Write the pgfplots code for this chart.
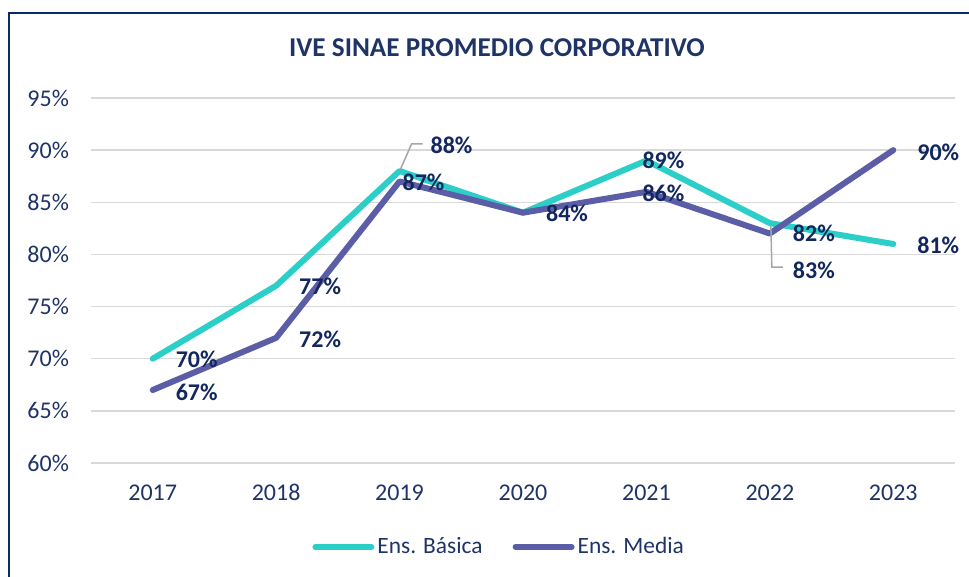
\documentclass[border=0pt]{standalone}
\usepackage{pgfplots}
\pgfplotsset{compat=1.18}
\usepackage{fontspec}
\setmainfont{Carlito}
\definecolor{navy}{HTML}{1F3466}
\definecolor{framec}{HTML}{0B2A6B}
\definecolor{lblc}{HTML}{13275F}
\definecolor{cteal}{HTML}{2BCFC8}
\definecolor{cpurple}{HTML}{5B5EA6}
\definecolor{leaderc}{HTML}{A6A6A6}
\definecolor{gridc}{HTML}{D9D9D9}
\tikzset{lbl/.style={font=\bfseries\fontsize{12}{14}\selectfont, text=lblc}}
\begin{document}
\begin{tikzpicture}
\useasboundingbox (0,0) rectangle (484.5pt,288.5pt);
\draw[framec, line width=1pt] (4.5pt,0pt) -- (4.5pt,282pt) -- (484.5pt,282pt);
\node[text=navy, font=\bfseries\fontsize{13.6}{15}\selectfont] at (248.5pt,264.5pt) {IVE SINAE PROMEDIO CORPORATIVO};
\begin{axis}[
  at={(45.5pt,57pt)}, anchor=south west,
  scale only axis, width=432pt, height=182.5pt,
  xmin=-0.5, xmax=6.5, ymin=60, ymax=95,
  xtick={0,...,6}, xticklabels={2017,2018,2019,2020,2021,2022,2023},
  ytick={60,65,...,95}, yticklabels={60\%,65\%,70\%,75\%,80\%,85\%,90\%,95\%},
  ymajorgrids, grid style={draw=gridc, line width=0.75pt},
  axis line style={draw=none}, major tick length=0pt,
  tick label style={text=navy, font=\fontsize{12}{14}\selectfont},
  yticklabel style={xshift=-7.5pt},
  xticklabel style={yshift=-7.2pt},
  clip=false,
  legend style={at={(0.473,-0.230)}, anchor=center, draw=none, fill=none,
    font=\fontsize{11.7}{14}\selectfont, text=navy, nodes={inner xsep=1.5pt},
    /tikz/every even column/.append style={column sep=13.5pt}},
  legend columns=2, legend cell align=left,
  legend image code/.code={\draw[#1, line cap=round] (0pt,0pt) -- (28pt,0pt);},
]
\addplot[cteal, line width=3pt, line join=round, line cap=round] coordinates {(0,70)(1,77)(2,88)(3,84)(4,89)(5,83)(6,81)};
\addlegendentry{Ens. Básica}
\addplot[cpurple, line width=3pt, line join=round, line cap=round] coordinates {(0,67)(1,72)(2,87)(3,84)(4,86)(5,82)(6,90)};
\addlegendentry{Ens. Media}
% Basica labels
\node[lbl, xshift=22pt, yshift=-0.5pt] at (axis cs:0,70) {70\%};
\node[lbl, xshift=22pt, yshift=-0.5pt] at (axis cs:1,77) {77\%};
\node[lbl, xshift=26pt, yshift=13pt] at (axis cs:2,88) {88\%};
\draw[leaderc, line width=0.75pt] ([xshift=0.5pt,yshift=1pt]axis cs:2,88) -- ++(5.5pt,12.5pt) -- ++(5.5pt,0pt);
\node[lbl, xshift=8.5pt, yshift=0pt] at (axis cs:4,89) {89\%};
\node[lbl, xshift=22pt, yshift=-23.5pt] at (axis cs:5,83) {83\%};
\draw[leaderc, line width=0.75pt] ([xshift=0.5pt,yshift=-1pt]axis cs:5,83) -- ++(0.5pt,-21pt) -- ++(5.5pt,0pt);
\node[lbl, xshift=22.5pt, yshift=-0.5pt] at (axis cs:6,81) {81\%};
% Media labels
\node[lbl, xshift=22pt, yshift=-1pt] at (axis cs:0,67) {67\%};
\node[lbl, xshift=22pt, yshift=-0.5pt] at (axis cs:1,72) {72\%};
\node[lbl, xshift=12pt, yshift=-0.5pt] at (axis cs:2,87) {87\%};
\node[lbl, xshift=22pt, yshift=-0.5pt] at (axis cs:3,84) {84\%};
\node[lbl, xshift=8.5pt, yshift=-0.5pt] at (axis cs:4,86) {86\%};
\node[lbl, xshift=22pt, yshift=0pt] at (axis cs:5,82) {82\%};
\node[lbl, xshift=22.5pt, yshift=-1pt] at (axis cs:6,90) {90\%};
\end{axis}
\end{tikzpicture}
\end{document}
